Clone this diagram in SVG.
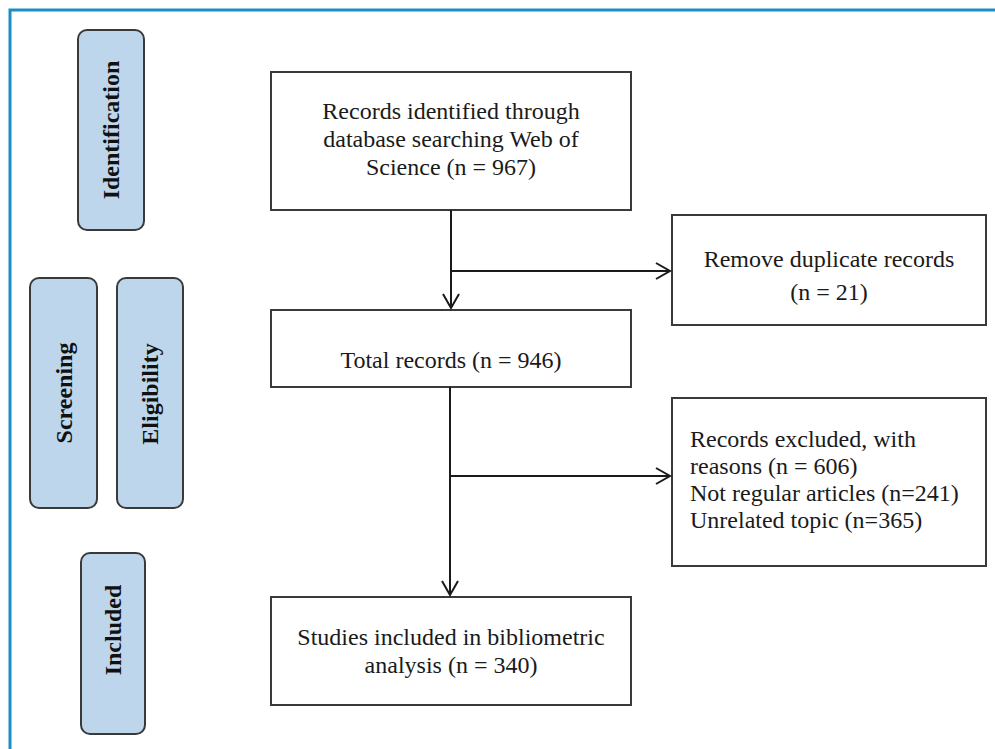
<svg xmlns="http://www.w3.org/2000/svg" width="995" height="749" viewBox="0 0 995 749">
  <style>
    .frame { stroke: #1b8ec6; stroke-width: 3; fill: none; }
    .phase { fill: #bdd6eb; stroke: #3a3a3a; stroke-width: 2; }
    .phase-t { font-family: "Liberation Serif", "Times New Roman", serif; font-size: 24px; font-weight: bold; fill: #111; text-anchor: middle; }
    .box { fill: #fff; stroke: #3a3a3a; stroke-width: 2; }
    .t { font-family: "Liberation Serif", "Times New Roman", serif; font-size: 24px; fill: #1a1a1a; }
    .c { text-anchor: middle; }
    .conn { stroke: #1a1a1a; stroke-width: 2; fill: none; }
  </style>
  <defs>
    <marker id="arr" markerUnits="userSpaceOnUse" markerWidth="20" markerHeight="20" viewBox="-16 -10 20 20" refX="0" refY="0" orient="auto">
      <path d="M-14,-8 L0,0 L-14,8" fill="none" stroke="#1a1a1a" stroke-width="2"/>
    </marker>
  </defs>

  <rect width="995" height="749" fill="#fff"/>
  <path class="frame" d="M10,749 L10,10 L995,10"/>

  <g id="phase-identification">
    <rect class="phase" x="78" y="30" width="66" height="200" rx="9"/>
    <text class="phase-t" transform="translate(111,130) rotate(-90)" y="8">Identification</text>
  </g>
  <g id="phase-screening">
    <rect class="phase" x="30" y="278" width="67" height="230" rx="9"/>
    <text class="phase-t" transform="translate(64,393) rotate(-90)" y="8">Screening</text>
  </g>
  <g id="phase-eligibility">
    <rect class="phase" x="117" y="278" width="66" height="230" rx="9"/>
    <text class="phase-t" transform="translate(150,394) rotate(-90)" y="8">Eligibility</text>
  </g>
  <g id="phase-included">
    <rect class="phase" x="81" y="553" width="64" height="181" rx="9"/>
    <text class="phase-t" transform="translate(113,630) rotate(-90)" y="8">Included</text>
  </g>

  <g id="node-identified">
    <rect class="box" x="271" y="72" width="360" height="138"/>
    <text class="t c" x="451" y="119">Records identified through</text>
    <text class="t c" x="451" y="147">database searching Web of</text>
    <text class="t c" x="451" y="175">Science (n = 967)</text>
  </g>
  <g id="node-duplicates">
    <rect class="box" x="672" y="215" width="314" height="110"/>
    <text class="t c" x="829" y="267">Remove duplicate records</text>
    <text class="t c" x="829" y="300">(n = 21)</text>
  </g>
  <g id="node-total">
    <rect class="box" x="271" y="310" width="360" height="77"/>
    <text class="t c" x="451" y="368">Total records (n = 946)</text>
  </g>
  <g id="node-excluded">
    <rect class="box" x="672" y="398" width="314" height="168"/>
    <text class="t" x="690" y="447">Records excluded, with</text>
    <text class="t" x="690" y="474">reasons (n = 606)</text>
    <text class="t" x="690" y="501">Not regular articles (n=241)</text>
    <text class="t" x="690" y="528">Unrelated topic (n=365)</text>
  </g>
  <g id="node-included">
    <rect class="box" x="271" y="597" width="360" height="108"/>
    <text class="t c" x="451" y="645">Studies included in bibliometric</text>
    <text class="t c" x="451" y="673">analysis (n = 340)</text>
  </g>

  <g id="connectors">
    <path class="conn" d="M451,210 L451,308" marker-end="url(#arr)"/>
    <path class="conn" d="M451,271 L670,271" marker-end="url(#arr)"/>
    <path class="conn" d="M450,387 L450,595" marker-end="url(#arr)"/>
    <path class="conn" d="M450,476 L670,476" marker-end="url(#arr)"/>
  </g>
</svg>
